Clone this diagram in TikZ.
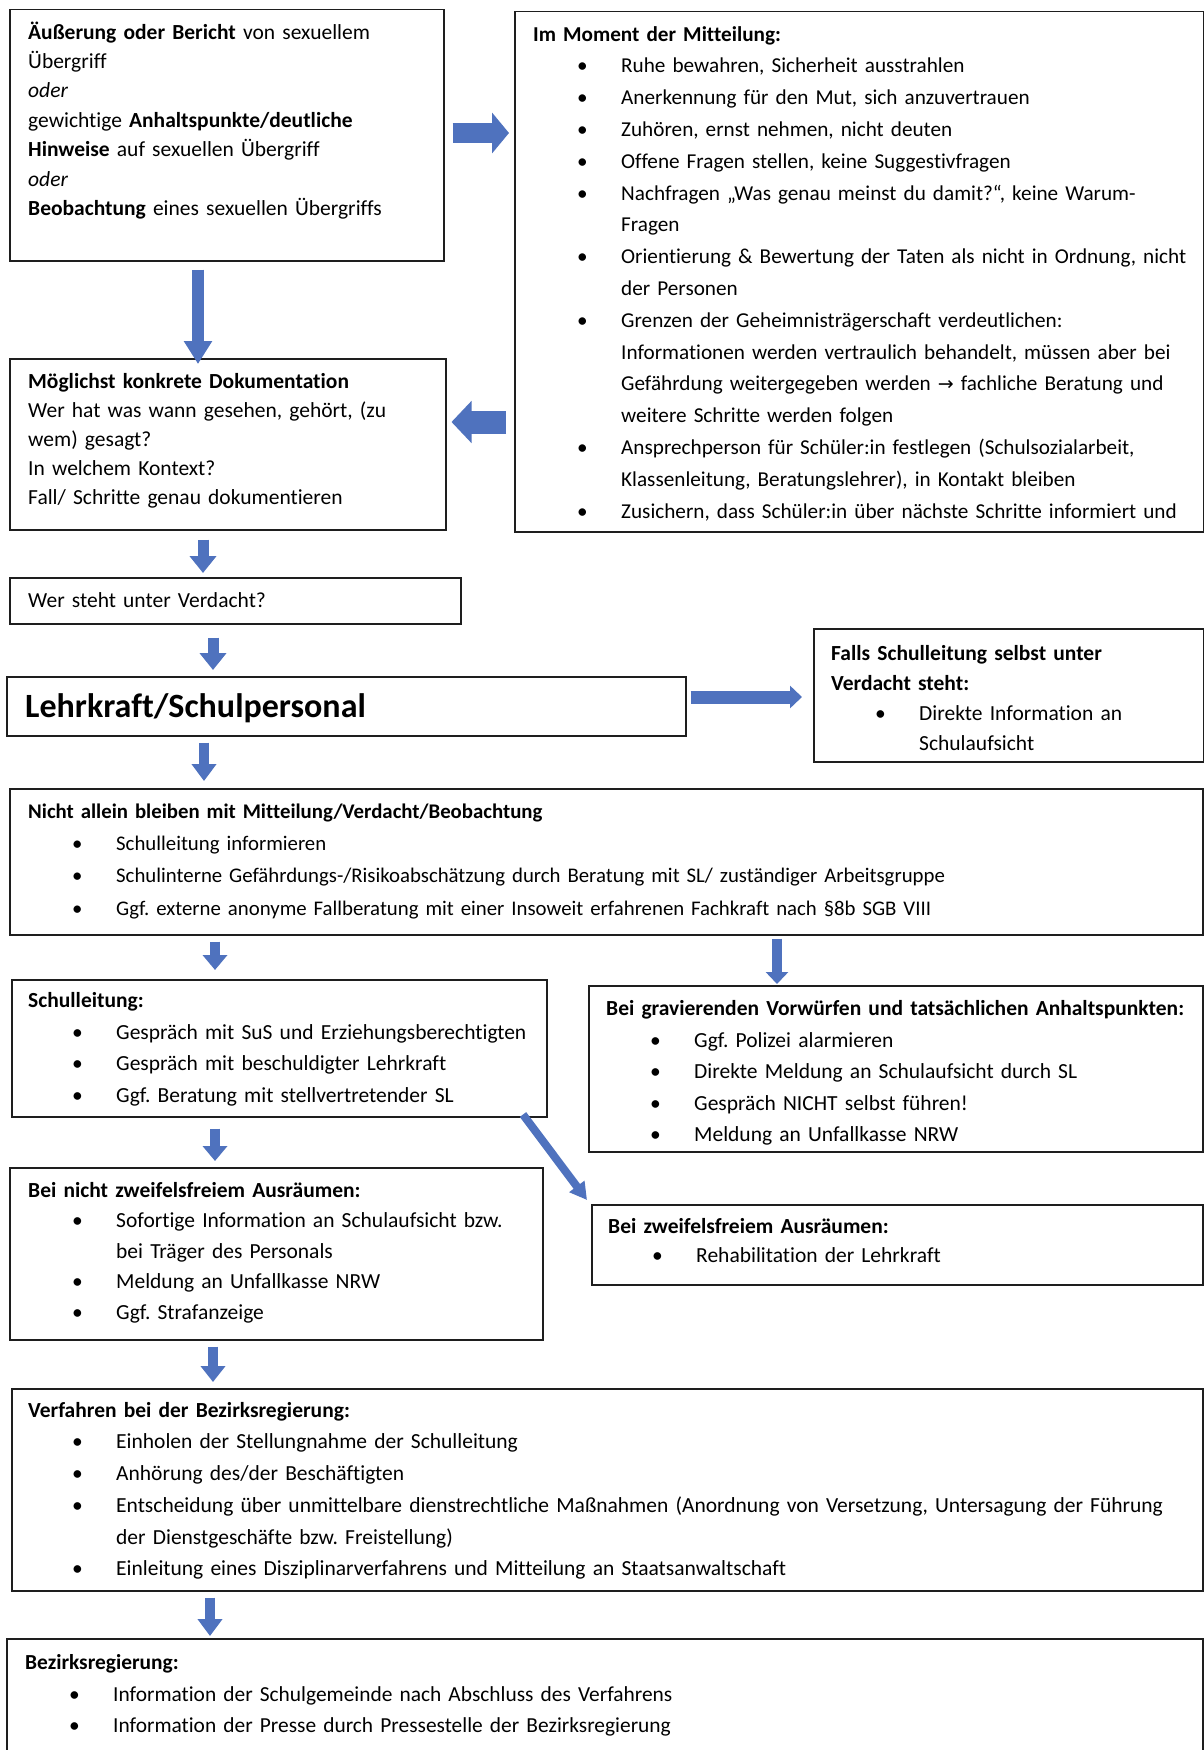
\documentclass[tikz,border=0pt]{standalone}
\usepackage{fontspec}
\setmainfont{Carlito}[Ligatures={NoCommon}]
\newfontfamily\djv{DejaVu Sans}
\usetikzlibrary{arrows.meta,calc}
\definecolor{arrowblue}{HTML}{4F72BE}
\definecolor{ink}{HTML}{1E1E1E}
\newlength\bo \newlength\io
\setlength\bo{44pt}\setlength\io{88pt}
\newcommand\itm{\par\noindent\hangindent=\io\hangafter=1\hbox to \io{\hspace{\bo}\textbullet\hfill}\ignorespaces}
\newcommand\nl{\hfil\break}
\newcommand\fst{\rule{0pt}{20pt}}
\frenchspacing
\tikzset{
  box/.style={draw=ink, line width=1.5pt, inner sep=0pt, anchor=north west},
  txt/.style={anchor=north west, inner sep=0pt, align=left, text width=#1, text=black},
  fnt/.style 2 args={font={\fontsize{#1}{#2}\selectfont\parindent=0pt\frenchspacing}},
  barrow/.style n args={3}{arrowblue, line width=#1, -{Triangle[width=#2,length=#3]}}
}
\begin{document}
\begin{tikzpicture}[x=1pt,y=-1pt]
\useasboundingbox (0,0) rectangle (1203,1750);
\fill[white] (0,0) rectangle (1203,1750);
% boxes
\node[box, minimum width=434pt, minimum height=251pt] (b1) at (9,9) {};
\node[box, minimum width=689pt, minimum height=520pt] (b2) at (514,11) {};
\node[box, minimum width=436pt, minimum height=171pt] (b3) at (9,358) {};
\node[box, minimum width=451pt, minimum height=46pt] (b4) at (9,577) {};
\node[box, minimum width=679pt, minimum height=59pt] (b5) at (6,676) {};
\node[box, minimum width=390pt, minimum height=133pt] (b6) at (813,628) {};
\node[box, minimum width=1193pt, minimum height=146pt] (b7) at (9,788) {};
\node[box, minimum width=535pt, minimum height=137pt] (b8) at (11,979) {};
\node[box, minimum width=614pt, minimum height=166pt] (b9) at (588,985) {};
\node[box, minimum width=533pt, minimum height=172pt] (b10) at (9,1167) {};
\node[box, minimum width=611pt, minimum height=80pt] (b11) at (591,1204) {};
\node[box, minimum width=1191pt, minimum height=202pt] (b12) at (11,1388) {};
\node[box, minimum width=1196pt, minimum height=112pt] (b13) at (6,1638) {};
% texts
\node[txt=410pt, fnt={21.5}{29.4}] (t1) at (28,19) {\fst\textbf{Äußerung oder Bericht} von sexuellem\\
Übergriff\\ \textit{oder}\\ gewichtige \textbf{Anhaltspunkte/deutliche}\\
\textbf{Hinweise} auf sexuellen Übergriff\\ \textit{oder}\\ \textbf{Beobachtung} eines sexuellen Übergriffs};
\node[txt=670pt, fnt={21.2}{31.8}] (t2) at (533,21) {\fst\textbf{Im Moment der Mitteilung:}
\itm Ruhe bewahren, Sicherheit ausstrahlen
\itm Anerkennung für den Mut, sich anzuvertrauen
\itm Zuhören, ernst nehmen, nicht deuten
\itm Offene Fragen stellen, keine Suggestivfragen
\itm Nachfragen „Was genau meinst du damit?“, keine Warum-\nl Fragen
\itm Orientierung \& Bewertung der Taten als nicht in Ordnung, nicht\nl der Personen
\itm Grenzen der Geheimnisträgerschaft verdeutlichen:\nl Informationen werden vertraulich behandelt, müssen aber bei\nl Gefährdung weitergegeben werden {\djv\fontsize{19}{20}\selectfont →} fachliche Beratung und\nl weitere Schritte werden folgen
\itm Ansprechperson für Schüler:in festlegen (Schulsozialarbeit,\nl Klassenleitung, Beratungslehrer), in Kontakt bleiben
\itm Zusichern, dass Schüler:in über nächste Schritte informiert und\par};
\node[txt=410pt, fnt={21.5}{29.0}] (t3) at (28,368) {\fst\textbf{Möglichst konkrete Dokumentation}\\
Wer hat was wann gesehen, gehört, (zu\\ wem) gesagt?\\ In welchem Kontext?\\ Fall/ Schritte genau dokumentieren};
\node[txt=420pt, fnt={21.5}{29.0}] (t4) at (28,587) {\fst Wer steht unter Verdacht?};
\node[txt=640pt, anchor=base west, font={\fontsize{34}{40}\selectfont\bfseries}] (t5) at (25,717) {Lehrkraft/Schulpersonal};
\node[txt=370pt, fnt={21.5}{29.8}] (t6) at (831,640.5) {\fst\textbf{Falls Schulleitung selbst unter}\par \textbf{Verdacht steht:}
\itm Direkte Information an\nl Schulaufsicht\par};
\node[txt=1160pt, fnt={20.8}{32.4}] (t7) at (28,797.8) {\fst\textbf{Nicht allein bleiben mit Mitteilung/Verdacht/Beobachtung}
\itm Schulleitung informieren
\itm Schulinterne Gefährdungs-/Risikoabschätzung durch Beratung mit SL/ zuständiger Arbeitsgruppe
\itm Ggf. externe anonyme Fallberatung mit einer Insoweit erfahrenen Fachkraft nach §8b SGB VIII\par};
\node[txt=510pt, fnt={21.5}{31.6}] (t8) at (28,987.5) {\fst\textbf{Schulleitung:}
\itm Gespräch mit SuS und Erziehungsberechtigten
\itm Gespräch mit beschuldigter Lehrkraft
\itm Ggf. Beratung mit stellvertretender SL\par};
\node[txt=595pt, fnt={21.5}{31.5}] (t9) at (606,995.4) {\fst\textbf{Bei gravierenden Vorwürfen und tatsächlichen Anhaltspunkten:}
\itm Ggf. Polizei alarmieren
\itm Direkte Meldung an Schulaufsicht durch SL
\itm Gespräch NICHT selbst führen!
\itm Meldung an Unfallkasse NRW\par};
\node[txt=510pt, fnt={21.5}{30.4}] (t10) at (28,1177.3) {\fst\textbf{Bei nicht zweifelsfreiem Ausräumen:}
\itm Sofortige Information an Schulaufsicht bzw.\nl bei Träger des Personals
\itm Meldung an Unfallkasse NRW
\itm Ggf. Strafanzeige\par};
\node[txt=590pt, fnt={21.5}{29.0}] (t11) at (608,1213) {\fst\textbf{Bei zweifelsfreiem Ausräumen:}
\itm Rehabilitation der Lehrkraft\par};
\node[txt=1170pt, fnt={21.5}{31.7}] (t12) at (28,1397) {\fst\textbf{Verfahren bei der Bezirksregierung:}
\itm Einholen der Stellungnahme der Schulleitung
\itm Anhörung des/der Beschäftigten
\itm Entscheidung über unmittelbare dienstrechtliche Maßnahmen (Anordnung von Versetzung, Untersagung der Führung\nl der Dienstgeschäfte bzw. Freistellung)
\itm Einleitung eines Disziplinarverfahrens und Mitteilung an Staatsanwaltschaft\par};
\node[txt=1170pt, fnt={21.4}{31.8}] (t13) at (25,1649) {\fst\textbf{Bezirksregierung:}
\itm Information der Schulgemeinde nach Abschluss des Verfahrens
\itm Information der Presse durch Pressestelle der Bezirksregierung\par};
% arrow guide coordinates
\coordinate (a13) at (198,0);
\coordinate (a34) at (203,0);
\coordinate (a45) at (213,0);
\coordinate (a57) at (204,0);
\coordinate (a78) at (215,0);
\coordinate (a79) at (777,0);
\coordinate (a810) at (215,0);
\coordinate (a1012) at (213,0);
\coordinate (a1213) at (210,0);
\coordinate (h12) at (0,133);
\coordinate (h23) at (0,422);
\coordinate (h56) at (0,697);
\coordinate (d8) at (523,0);
% arrows
\draw[barrow={20pt}{40pt}{17pt}, shorten <=8pt, shorten >=5pt] (b1.east |- h12) -- (b2.west |- h12);
\draw[barrow={23pt}{41pt}{20pt}, shorten <=8pt, shorten >=5pt] (b2.west |- h23) -- (b3.east |- h23);
\draw[barrow={12pt}{27pt}{23pt}, shorten <=8pt, shorten >=-6pt] (b1.south -| a13) -- (b3.north -| a13);
\draw[barrow={11pt}{26pt}{17pt}, shorten <=9pt, shorten >=4pt] (b3.south -| a34) -- (b4.north -| a34);
\draw[barrow={11pt}{26pt}{17pt}, shorten <=13pt, shorten >=6pt] (b4.south -| a45) -- (b5.north -| a45);
\draw[barrow={13pt}{22pt}{12pt}, shorten <=4pt, shorten >=11pt] (b5.east |- h56) -- (b6.west |- h56);
\draw[barrow={10pt}{24pt}{17pt}, shorten <=6pt, shorten >=7pt] (b5.south -| a57) -- (b7.north -| a57);
\draw[barrow={10pt}{24pt}{15pt}, shorten <=6pt, shorten >=9pt] (b7.south -| a78) -- (b8.north -| a78);
\draw[barrow={10pt}{22pt}{12pt}, shorten <=3pt, shorten >=1pt] (b7.south -| a79) -- (b9.north -| a79);
\draw[barrow={10pt}{24pt}{15pt}, shorten <=11pt, shorten >=6pt] (b8.south -| a810) -- (b10.north -| a810);
\draw[barrow={10pt}{24pt}{16pt}, shorten <=6pt, shorten >=6pt] (b10.south -| a1012) -- (b12.north -| a1012);
\draw[barrow={10pt}{24pt}{17pt}, shorten <=6pt, shorten >=2pt] (b12.south -| a1213) -- (b13.north -| a1213);
\draw[barrow={8pt}{18pt}{17pt}, shorten <=0pt, shorten >=0pt] ($(b8.south -| d8)+(0,-3)$) -- ($(b11.north west)+(-4,-4)$);
\end{tikzpicture}
\end{document}
